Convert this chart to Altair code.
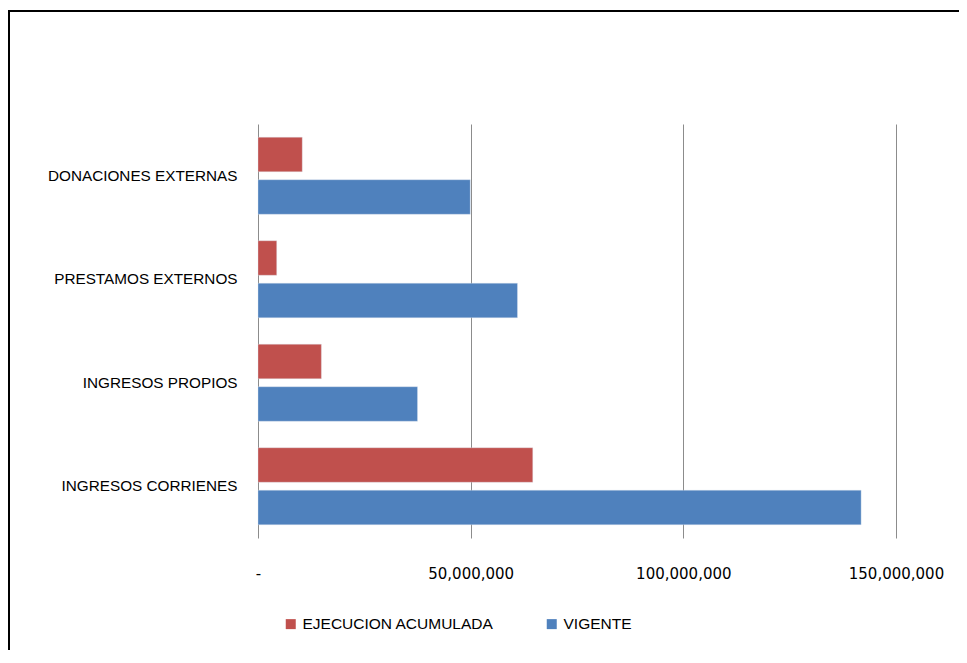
import altair as alt
import pandas as pd

categories = ["DONACIONES EXTERNAS", "PRESTAMOS EXTERNOS", "INGRESOS PROPIOS", "INGRESOS CORRIENES"]
series = ["EJECUCION ACUMULADA", "VIGENTE"]
ejecucion = [10400000, 4400000, 14900000, 64600000]
vigente = [49900000, 61000000, 37500000, 141800000]
colors = ["#C0504D", "#4F81BD"]
x_ticks = [0, 50000000, 100000000, 150000000]

rows = []
for c, e, v in zip(categories, ejecucion, vigente):
    rows.append({"Categoria": c, "Serie": series[0], "Valor": e})
    rows.append({"Categoria": c, "Serie": series[1], "Valor": v})
df = pd.DataFrame(rows)

FONT = "Liberation Sans"

bars = alt.Chart(df).mark_bar(stroke="#dce6f2", strokeWidth=0.6, strokeOpacity=0.6).encode(
    x=alt.X(
        "Valor:Q",
        scale=alt.Scale(domain=[0, 150000000], nice=False),
        axis=alt.Axis(
            values=x_ticks,
            labelExpr="datum.value == 0 ? '-' : format(datum.value, ',')",
            title=None,
            grid=True,
            gridColor="#8c8c8c",
            gridWidth=1,
            domain=False,
            ticks=False,
            labelPadding=28,
            labelFontSize=15,
            labelColor="#000000",
            labelFont="DejaVu Sans",
            labelFlush=False,
            labelOverlap=False,
            labelBound=False,
        ),
    ),
    y=alt.Y(
        "Categoria:N",
        sort=categories,
        scale=alt.Scale(paddingInner=0.256, paddingOuter=0.128),
        axis=alt.Axis(
            title=None,
            domain=False,
            ticks=False,
            grid=False,
            labelPadding=21,
            labelFontSize=15.3,
            labelColor="#000000",
            labelFont=FONT,
            labelLimit=300,
        ),
    ),
    yOffset=alt.YOffset("Serie:N", sort=series, scale=alt.Scale(paddingInner=0.188, paddingOuter=0)),
    color=alt.Color(
        "Serie:N",
        sort=series,
        scale=alt.Scale(domain=series, range=colors),
        legend=alt.Legend(
            title=None,
            orient="none",
            legendX=25,
            legendY=492,
            direction="horizontal",
            symbolType="square",
            symbolSize=100,
            symbolStrokeWidth=0,
            labelFontSize=15.5,
            labelFont=FONT,
            labelColor="#000000",
            labelOffset=4,
            labelLimit=400,
            columnPadding=50,
        ),
    ),
)

frame = alt.Chart(pd.DataFrame({"a": [0]})).mark_rect(
    filled=False, stroke="#000000", strokeWidth=2
).encode(
    x=alt.value(-249), x2=alt.value(760), y=alt.value(-113), y2=alt.value(600)
)

chart = alt.layer(bars, frame).properties(
    width=638,
    height=414,
    padding={"left": 250, "top": 116, "right": 63, "bottom": 112},
    autosize=alt.AutoSizeParams(type="none"),
    background="#ffffff",
).configure_view(stroke=None)

chart.save("out.html", embed_options={"renderer": "svg", "actions": False})
